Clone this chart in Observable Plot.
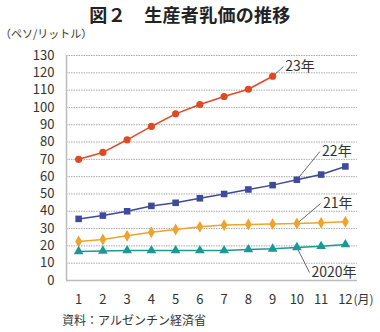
<!DOCTYPE html>
<html><head><meta charset="utf-8">
<script src="https://cdn.jsdelivr.net/npm/d3@7"></script>
<script src="https://cdn.jsdelivr.net/npm/@observablehq/plot@0.6"></script>
<style>
body{margin:0;background:#fff;font-family:"Noto Sans CJK JP","Noto Sans",sans-serif;color:#222;width:380px;}
#title{height:26px;line-height:28px;text-align:center;font-size:18px;font-weight:bold;letter-spacing:0.3px;}
#unit{height:14px;line-height:14px;font-size:11px;padding-left:0px;color:#333;}
#cap{height:20px;line-height:16px;font-size:12px;padding-left:62px;color:#333;}
svg{display:block;}
</style></head><body>
<div id="title">図２　生産者乳価の推移</div>
<div id="unit">（ペソ/リットル）</div>
<div id="chart"></div>
<div id="cap">資料：アルゼンチン経済省</div>
<script>
const months = [1,2,3,4,5,6,7,8,9,10,11,12];
const y2023 = [70,74,81.3,89,96.3,101.7,106.3,110.5,118];
const y2022 = [35.6,37.5,40,43.1,44.9,47.5,50,52.6,55.1,58.2,61.2,65.9];
const y2021 = [22.5,23.7,25.8,27.9,29.5,31,32,32.4,32.7,32.9,33.3,33.9];
const y2020 = [16.8,17.1,17.3,17.3,17.3,17.3,17.3,17.9,18.3,19.1,19.8,20.8];
const seriesNames = ["23年","22年","21年","2020年"];
const seriesColors = ["#dd4b26","#3f4a9a","#eea42c","#1c9994"];
const seriesSymbols = ["circle","square","diamond","triangle"];
const yTicks = [0,10,20,30,40,50,60,70,80,90,100,110,120,130];
// label anchors (month, value) and leader start points
const labelPos = [[9.52,123.6],[11.04,74.5],[11.08,44.5],[10.6,4.6]];
const leaderFrom = [[9,118],[10,58.2],[10,32.9],[10,19.1]];
const leaderTo = [[9.45,123.6],[10.95,74.5],[10.98,44.5],[10.52,4.6]];

const allSeries = [y2023,y2022,y2021,y2020];
const rows = [];
allSeries.forEach((arr,i)=>arr.forEach((v,j)=>rows.push({m:months[j],v,s:seriesNames[i]})));
const labels = seriesNames.map((s,i)=>({s,x:labelPos[i][0],y:labelPos[i][1]}));
const leaders = seriesNames.map((s,i)=>({x1:leaderFrom[i][0],y1:leaderFrom[i][1],x2:leaderTo[i][0],y2:leaderTo[i][1]}));

const marks = [
  Plot.ruleY(yTicks.filter(d=>d>0),{stroke:"#aaa",strokeDasharray:"1.5,1",strokeWidth:1}),
  Plot.ruleY([0],{stroke:"#bbb",strokeWidth:1.5}),
  Plot.ruleX([0.5],{stroke:"#bbb",strokeWidth:1.5}),
  Plot.axisY({ticks:yTicks,tickSize:0,tickPadding:12,fontSize:13,label:null,color:"#333"}),
  Plot.axisX({ticks:months,tickSize:0,tickPadding:14,fontSize:13,label:null,color:"#333",tickFormat:d=>String(d)}),
  Plot.text(["(月)"],{x:12.5,y:0,text:d=>d,dy:20,dx:-4,textAnchor:"start",fontSize:12,fill:"#333"}),
  Plot.link(leaders,{x1:"x1",y1:"y1",x2:"x2",y2:"y2",stroke:"#444",strokeWidth:0.8}),
];
seriesNames.forEach((s,i)=>{
  const d = rows.filter(r=>r.s===s);
  marks.push(Plot.line(d,{x:"m",y:"v",stroke:seriesColors[i],strokeWidth:1.5}));
  marks.push(Plot.dot(d,{x:"m",y:"v",fill:seriesColors[i],symbol:seriesSymbols[i],r:i===1?3.7:3.6,stroke:null}));
});
marks.push(Plot.text(labels,{x:"x",y:"y",text:"s",textAnchor:"start",fontSize:14,fill:"#333"}));

const chart = Plot.plot({
  width:380,height:272,
  marginLeft:66,marginRight:23,marginTop:15,marginBottom:32,
  style:{fontFamily:"'Noto Sans CJK JP','Noto Sans',sans-serif",background:"#fff",overflow:"visible"},
  x:{type:"linear",domain:[0.5,12.5]},
  y:{domain:[0,130]},
  marks
});
document.getElementById("chart").appendChild(chart);
</script>
</body></html>
